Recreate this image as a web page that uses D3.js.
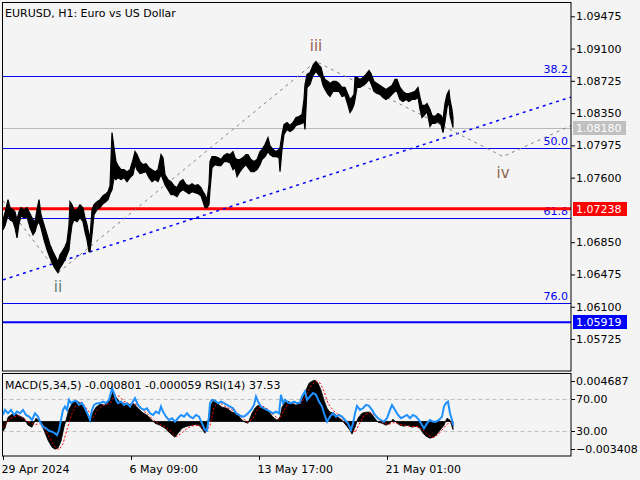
<!DOCTYPE html>
<html><head><meta charset="utf-8">
<script src="https://cdn.jsdelivr.net/npm/d3@7"></script>
<style>body{margin:0;background:#f4f4f4;}svg{display:block;font-family:"DejaVu Sans",sans-serif;}</style>
</head><body>
<script>
// ---------- DATA ----------
const title = "EURUSD, H1:  Euro vs US Dollar";
const priceBars = [0,2,5,7,10,12,14,16,18,21,24,27,30,32,34,36,38,41,44,47,50,53,55,57,59,62,64,66,67,69,71,74,77,80,82,84,86,87,89,91,94,97,100,103,105,107,109,111,113,115,118,121,124,127,130,132,134,137,140,143,146,149,152,155,158,160,162,165,168,171,174,177,180,183,186,189,192,195,198,200,202,204,206,207,209,212,215,218,221,224,227,230,232,234,237,240,243,245,248,251,254,257,259,262,265,267,270,273,276,277,279,281,284,287,290,293,296,299,301,302,304,307,310,313,316,318,320,322,325,327,330,333,336,339,342,345,347,349,351,352,354,357,360,363,366,368,371,374,377,380,383,386,389,392,394,397,400,403,406,409,412,415,417,419,422,424,427,429,432,435,438,440,442,444,446,447,449,450];
const priceHigh = [1.07111,1.07192,1.07344,1.07251,1.07227,1.07204,1.07111,1.07204,1.07251,1.07227,1.07251,1.07181,1.07111,1.07088,1.07227,1.07344,1.07169,1.07053,1.06936,1.06820,1.06739,1.06669,1.06622,1.06704,1.06739,1.06797,1.06855,1.07053,1.07321,1.07286,1.07227,1.07227,1.07286,1.07251,1.07134,1.07053,1.06936,1.06901,1.07227,1.07286,1.07321,1.07344,1.07390,1.07413,1.07437,1.07507,1.08124,1.07950,1.07787,1.07740,1.07693,1.07693,1.07670,1.07693,1.07810,1.07903,1.07868,1.07787,1.07751,1.07763,1.07716,1.07693,1.07670,1.07693,1.07868,1.07833,1.07635,1.07577,1.07553,1.07507,1.07484,1.07553,1.07577,1.07519,1.07507,1.07530,1.07507,1.07519,1.07484,1.07437,1.07402,1.07344,1.07519,1.07787,1.07845,1.07845,1.07833,1.07810,1.07857,1.07880,1.07868,1.07903,1.07833,1.07810,1.07810,1.07833,1.07868,1.07868,1.07810,1.07787,1.07810,1.07903,1.07926,1.07985,1.08066,1.07973,1.07926,1.07903,1.07926,1.07950,1.08101,1.08217,1.08241,1.08206,1.08241,1.08299,1.08311,1.08334,1.08508,1.08683,1.08800,1.08823,1.08905,1.08951,1.08905,1.08881,1.08788,1.08741,1.08718,1.08695,1.08718,1.08718,1.08695,1.08648,1.08648,1.08567,1.08508,1.08532,1.08567,1.08765,1.08765,1.08741,1.08765,1.08800,1.08846,1.08811,1.08718,1.08695,1.08672,1.08648,1.08625,1.08648,1.08672,1.08741,1.08741,1.08648,1.08602,1.08578,1.08578,1.08590,1.08602,1.08648,1.08532,1.08439,1.08439,1.08462,1.08392,1.08322,1.08311,1.08346,1.08322,1.08276,1.08462,1.08567,1.08613,1.08508,1.08392,1.08299];
const priceLow = [1.06994,1.07041,1.07169,1.07111,1.07088,1.07018,1.06901,1.07064,1.07157,1.07134,1.07146,1.07018,1.06936,1.06971,1.07053,1.07088,1.07018,1.06878,1.06762,1.06669,1.06587,1.06529,1.06494,1.06552,1.06587,1.06645,1.06704,1.06762,1.06878,1.07053,1.07111,1.07088,1.07134,1.07088,1.06971,1.06878,1.06739,1.06739,1.06936,1.07169,1.07227,1.07251,1.07297,1.07321,1.07344,1.07413,1.07460,1.07600,1.07577,1.07600,1.07577,1.07600,1.07553,1.07600,1.07635,1.07751,1.07693,1.07647,1.07658,1.07670,1.07600,1.07553,1.07577,1.07553,1.07635,1.07577,1.07519,1.07460,1.07402,1.07402,1.07379,1.07437,1.07460,1.07437,1.07413,1.07437,1.07425,1.07413,1.07390,1.07321,1.07251,1.07251,1.07286,1.07460,1.07716,1.07751,1.07740,1.07740,1.07787,1.07787,1.07775,1.07693,1.07716,1.07612,1.07670,1.07716,1.07751,1.07716,1.07670,1.07670,1.07693,1.07751,1.07810,1.07845,1.07903,1.07868,1.07845,1.07845,1.07833,1.07670,1.07926,1.08101,1.08159,1.08136,1.08159,1.08206,1.08217,1.08229,1.08252,1.08159,1.08648,1.08683,1.08788,1.08835,1.08788,1.08765,1.08672,1.08625,1.08567,1.08543,1.08602,1.08602,1.08602,1.08543,1.08555,1.08439,1.08357,1.08392,1.08450,1.08508,1.08648,1.08648,1.08672,1.08695,1.08741,1.08695,1.08602,1.08578,1.08567,1.08532,1.08508,1.08532,1.08567,1.08602,1.08602,1.08508,1.08485,1.08508,1.08485,1.08508,1.08508,1.08532,1.08392,1.08299,1.08334,1.08369,1.08194,1.08229,1.08229,1.08252,1.08217,1.08124,1.08252,1.08415,1.08485,1.08322,1.08229,1.08183];

const priceTicks = [1.09475,1.09100,1.08725,1.08350,1.07975,1.07600,1.06850,1.06475,1.06100,1.05725];
const lastPrice = 1.08180;
const redLevel = 1.07238;
const blueLevel = 1.05919;
const fibNames = ["38.2","50.0","61.8","76.0"];
const fibPrices = [1.08776,1.07949,1.07134,1.06144];
const trendBars = [0,568];
const trendPrices = [1.06412,1.08536];
const waveBars = [0,55,313,500,568];
const wavePrices = [1.07332,1.06494,1.08951,1.07845,1.08206];
const waveLabels = ["ii","iii","iv"];
const waveLabelIdx = [1,2,3];

const timeTickBars = [0,128,256,384];
const timeTickLabels = ["29 Apr 2024","6 May 09:00","13 May 17:00","21 May 01:00"];

const macdBars = [0,2,5,9,13,17,21,25,29,33,37,41,45,49,52,55,58,61,63,66,70,73,77,81,84,87,90,93,97,102,107,110,113,117,121,125,130,134,139,144,149,152,157,162,167,172,175,179,184,189,194,197,200,202,205,207,210,214,219,224,229,234,238,242,245,249,252,255,259,263,267,270,274,277,279,282,285,289,293,297,300,303,306,309,312,315,318,321,324,327,331,335,339,343,347,349,352,355,359,363,367,371,375,379,383,387,390,393,397,401,405,409,413,417,420,423,427,430,433,437,441,444,447,450];
const macdValues = [-0.00096,-0.00066,0.00042,0.00072,0.00072,0.00052,0.00033,-0.00037,-0.00056,0.00033,-0.00007,-0.00086,-0.00185,-0.00254,-0.00273,-0.00264,-0.00194,-0.00056,0.00013,0.00121,0.00190,0.00210,0.00181,0.00141,0.00082,0.00003,0.00092,0.00141,0.00171,0.00161,0.00210,0.00299,0.00240,0.00190,0.00181,0.00161,0.00181,0.00141,0.00092,0.00062,0.00013,-0.00017,-0.00037,-0.00066,-0.00116,-0.00155,-0.00116,-0.00066,-0.00046,-0.00037,-0.00027,-0.00046,-0.00086,-0.00116,0.00003,0.00141,0.00200,0.00181,0.00141,0.00131,0.00092,0.00082,0.00023,-0.00007,-0.00017,0.00082,0.00131,0.00161,0.00141,0.00121,0.00082,0.00042,0.00013,0.00042,0.00141,0.00190,0.00200,0.00181,0.00161,0.00181,0.00240,0.00309,0.00378,0.00398,0.00408,0.00378,0.00309,0.00210,0.00131,0.00092,0.00082,0.00042,0.00013,-0.00037,-0.00086,-0.00125,-0.00056,0.00033,0.00082,0.00092,0.00092,0.00042,-0.00007,-0.00017,-0.00037,-0.00017,0.00023,-0.00007,-0.00037,-0.00046,-0.00037,-0.00056,-0.00046,-0.00066,-0.00116,-0.00145,-0.00165,-0.00155,-0.00135,-0.00086,-0.00037,0.00033,0.00013,-0.00080];
const signalBars = [0,7,15,23,31,39,45,51,56,60,64,69,74,79,85,90,95,101,107,112,116,121,127,133,139,145,151,157,163,169,174,179,185,191,197,203,207,211,216,222,228,234,240,245,250,255,260,265,271,276,281,286,292,298,303,308,313,317,321,325,330,336,342,347,352,356,361,367,373,379,385,391,397,403,409,415,421,426,431,436,441,446,450];
const signalValues = [-0.0006,0.0003,0.0006,0.0001,-0.0003,-0.0002,-0.0013,-0.0024,-0.0028,-0.0022,-0.0008,0.0008,0.0018,0.0019,0.0011,0.0004,0.0012,0.0016,0.0018,0.0026,0.0025,0.0020,0.0017,0.0017,0.0012,0.0007,0.0001,-0.0003,-0.0006,-0.0011,-0.0015,-0.0011,-0.0006,-0.0004,-0.0004,-0.0010,-0.0004,0.0014,0.0019,0.0015,0.0012,0.0009,0.0003,-0.0001,0.0003,0.0013,0.0015,0.0012,0.0006,0.0002,0.0011,0.0019,0.0018,0.0018,0.0026,0.0035,0.0040,0.0038,0.0030,0.0018,0.0011,0.0006,0.0000,-0.0006,-0.0011,-0.0003,0.0006,0.0009,0.0005,-0.0001,-0.0003,-0.0001,-0.0003,-0.0004,-0.0005,-0.0005,-0.0009,-0.0014,-0.0016,-0.0012,-0.0006,-0.0001,-0.00006];
const rsiBars = [0,2,5,8,11,14,17,20,23,26,29,32,35,37,40,43,46,49,52,54,56,58,60,62,64,66,68,70,73,76,79,82,85,87,89,91,94,97,100,103,106,109,111,113,115,118,121,124,127,130,132,135,138,141,144,147,150,153,156,158,160,163,166,169,172,175,178,181,184,187,190,193,196,199,202,204,206,207,209,212,215,218,221,224,227,230,233,236,239,242,245,248,251,253,255,258,261,264,267,270,273,276,278,280,282,285,288,291,294,297,299,302,304,307,310,313,316,319,321,324,327,330,333,336,339,342,345,348,350,352,354,357,360,363,366,369,372,375,378,381,384,387,389,392,395,398,401,404,407,410,413,416,419,421,424,427,430,433,436,439,441,443,445,447,449,450];
const rsiValues = [50.1,56.2,52.1,56.2,50.1,54.2,52.1,56.2,50.1,48.0,43.9,52.1,48.0,41.9,35.7,33.7,30.8,29.6,27.6,25.5,31.7,43.9,56.2,60.3,56.2,68.5,64.4,66.4,67.6,62.3,64.4,58.2,50.1,43.9,56.2,62.3,64.4,64.4,66.4,64.4,68.5,82.8,76.7,68.5,64.4,66.4,62.3,64.4,60.3,66.4,70.5,62.3,58.2,56.2,58.2,52.1,50.1,54.2,52.1,60.3,54.2,48.0,43.9,46.0,41.9,46.0,50.1,48.0,52.1,48.0,46.0,50.1,48.0,39.8,31.7,30.8,48.0,64.4,68.5,67.6,64.4,66.4,64.4,62.3,60.3,58.2,52.1,50.1,48.0,48.8,52.1,56.2,62.3,72.6,66.4,60.3,58.2,56.2,54.2,52.1,54.2,52.1,74.6,64.4,68.5,65.2,64.4,66.4,64.4,65.2,72.6,78.7,68.5,72.6,76.7,74.6,66.4,60.3,52.1,41.9,48.0,52.1,48.0,50.1,48.0,43.9,39.8,31.7,39.8,52.1,61.1,56.2,58.2,62.3,61.1,56.2,50.1,46.0,43.9,41.9,46.0,56.2,62.3,56.2,50.1,46.0,48.0,50.1,46.0,50.1,48.0,43.9,37.8,33.7,39.8,43.9,41.9,41.9,43.9,48.0,60.3,64.4,66.4,52.1,43.9,37.53];
const macdMax = 0.004687, macdMin = -0.003408;
const rsiLevels = [70,30];
const subTitle = "MACD(5,34,5) -0.000801 -0.000059 RSI(14) 37.53";

// ---------- LAYOUT ----------
const W = 640, H = 480;
const L = 2.5, R = 571, mainTop = 2.5, mainBottom = 371, subTop = 373.5, subBottom = 456;
const svg = d3.select("body").append("svg").attr("width", W).attr("height", H);
svg.append("rect").attr("width", W).attr("height", H).attr("fill", "#f4f4f4");

const x = d3.scaleLinear().domain([0, 568]).range([3, 571]);
const y = d3.scaleLinear().domain([1.09475, 1.05725]).range([16.3, 339]);
const yM = d3.scaleLinear().domain([macdMin, macdMax]).range([subBottom, subTop + 0.5]);
const yR = d3.scaleLinear().domain([0, 100]).range([subBottom, subTop + 0.5]);

const defs = svg.append("defs");
defs.append("clipPath").attr("id", "cm").append("rect").attr("x", L).attr("y", mainTop).attr("width", R - L).attr("height", mainBottom - mainTop);
defs.append("clipPath").attr("id", "cs").append("rect").attr("x", L).attr("y", subTop).attr("width", R - L).attr("height", subBottom - subTop);

const gm = svg.append("g").attr("clip-path", "url(#cm)");

// fib horizontal lines
fibPrices.forEach((p, i) => {
  gm.append("line").attr("x1", L).attr("x2", R).attr("y1", Math.round(y(p)) + 0.5).attr("y2", Math.round(y(p)) + 0.5)
    .attr("stroke", "#0000ee").attr("stroke-width", 1);
  gm.append("text").attr("x", 568).attr("y", Math.round(y(p)) - 3).attr("text-anchor", "end")
    .attr("font-size", 11).attr("fill", "#0000ee").text(fibNames[i]);
});
// current price line
gm.append("line").attr("x1", L).attr("x2", R).attr("y1", Math.round(y(lastPrice)) + 0.5).attr("y2", Math.round(y(lastPrice)) + 0.5)
  .attr("stroke", "#b8b8b8").attr("stroke-width", 1);
// red & blue levels
gm.append("line").attr("x1", L).attr("x2", R).attr("y1", y(redLevel)).attr("y2", y(redLevel)).attr("stroke", "#ff0000").attr("stroke-width", 3);
gm.append("line").attr("x1", L).attr("x2", R).attr("y1", y(blueLevel)).attr("y2", y(blueLevel)).attr("stroke", "#0000ff").attr("stroke-width", 2);

// trend line (dotted blue)
gm.append("path").datum(trendBars.map((b, i) => [b, trendPrices[i]]))
  .attr("d", d3.line().x(d => x(d[0])).y(d => y(d[1])))
  .attr("fill", "none").attr("stroke", "#0000ff").attr("stroke-width", 1.5).attr("stroke-dasharray", "3,4");

// wave zigzag (grey dashed)
gm.append("path").datum(waveBars.map((b, i) => [b, wavePrices[i]]))
  .attr("d", d3.line().x(d => x(d[0])).y(d => y(d[1])))
  .attr("fill", "none").attr("stroke", "#808080").attr("stroke-width", 1).attr("stroke-dasharray", "3,4");

// price
const pd = priceBars.map((b, i) => ({b, h: priceHigh[i], l: priceLow[i]}));
gm.append("path").datum(pd)
  .attr("d", d3.area().x(d => x(d.b)).y0(d => y(d.l)).y1(d => y(d.h)))
  .attr("fill", "#000").attr("stroke", "#000").attr("stroke-width", 1.2);

// wave labels
const waveColors = ["#5f7f70", "#9a5c4c", "#8c6650"];
const waveOffsets = [19, -10, 21];
waveLabelIdx.forEach((wi, k) => {
  svg.append("text").attr("x", x(waveBars[wi])).attr("y", y(wavePrices[wi]) + waveOffsets[k])
    .attr("text-anchor", "middle").attr("font-size", 15).attr("fill", waveColors[k]).text(waveLabels[k]);
});

// title
svg.append("text").attr("x", 5).attr("y", 17).attr("font-size", 11).attr("fill", "#000").text(title);

// frames
svg.append("rect").attr("x", L).attr("y", mainTop).attr("width", R - L).attr("height", mainBottom - mainTop)
  .attr("fill", "none").attr("stroke", "#000").attr("stroke-width", 1);
svg.append("rect").attr("x", L).attr("y", subTop).attr("width", R - L).attr("height", subBottom - subTop)
  .attr("fill", "none").attr("stroke", "#000").attr("stroke-width", 1);

// price axis
const ax = svg.append("g").attr("transform", `translate(${R},0)`)
  .call(d3.axisRight(y).tickValues(priceTicks).tickSize(4).tickPadding(1).tickFormat(d3.format(".5f")));
ax.select(".domain").remove();
ax.selectAll("text").attr("font-size", 11).attr("font-family", "DejaVu Sans").attr("fill", "#000");
ax.selectAll("line").attr("stroke", "#000");

function priceBox(p, fill, w) {
  const yy = Math.round(y(p));
  svg.append("rect").attr("x", 573).attr("y", yy - 7).attr("width", w).attr("height", 14).attr("fill", fill);
  svg.append("text").attr("x", 576).attr("y", yy + 4).attr("font-size", 11).attr("fill", "#fff").text(d3.format(".5f")(p));
}
priceBox(lastPrice, "#c0c0c0", 53);
priceBox(redLevel, "#ff0000", 54);
priceBox(blueLevel, "#0000ff", 54);

// ---------- SUB WINDOW ----------
const gs = svg.append("g").attr("clip-path", "url(#cs)");
rsiLevels.forEach(v => {
  gs.append("line").attr("x1", L).attr("x2", R).attr("y1", Math.round(yR(v)) + 0.5).attr("y2", Math.round(yR(v)) + 0.5)
    .attr("stroke", "#c0c0c0").attr("stroke-dasharray", "4,3");
});
const md = macdBars.map((b, i) => [b, macdValues[i]]);
gs.append("path").datum(md)
  .attr("d", d3.area().x(d => x(d[0])).y0(yM(0)).y1(d => yM(d[1])))
  .attr("fill", "#000").attr("stroke", "#000").attr("stroke-width", 0.8);
gs.append("path").datum(signalBars.map((b, i) => [b, signalValues[i]]))
  .attr("d", d3.line().x(d => x(d[0])).y(d => yM(d[1])))
  .attr("fill", "none").attr("stroke", "#ff0000").attr("stroke-width", 1).attr("stroke-dasharray", "2,2");
gs.append("path").datum(rsiBars.map((b, i) => [b, rsiValues[i]]))
  .attr("d", d3.line().x(d => x(d[0])).y(d => yR(d[1])))
  .attr("fill", "none").attr("stroke", "#1e90ff").attr("stroke-width", 2);

svg.append("text").attr("x", 5).attr("y", 389).attr("font-size", 11).attr("fill", "#000").text(subTitle);

// sub axis labels
const subLabels = [[d3.format(".6f")(macdMax), 381], [d3.format(".2f")(rsiLevels[0]), yR(rsiLevels[0])],
                   [d3.format(".2f")(rsiLevels[1]), yR(rsiLevels[1])], [d3.format(".6f")(macdMin), 449]];
subLabels.forEach(([t, yy]) => {
  svg.append("line").attr("x1", R).attr("x2", R + 4).attr("y1", Math.round(yy) + 0.5).attr("y2", Math.round(yy) + 0.5).attr("stroke", "#000");
  svg.append("text").attr("x", 576).attr("y", yy + 4).attr("font-size", 11).attr("fill", "#000").text(t);
});

// time axis
const tx = svg.append("g").attr("transform", `translate(0,${subBottom})`)
  .call(d3.axisBottom(x).tickValues(timeTickBars).tickSize(4).tickFormat((d, i) => timeTickLabels[i]));
tx.select(".domain").remove();
tx.selectAll("line").attr("stroke", "#000");
tx.selectAll("text").attr("font-size", 11).attr("font-family", "DejaVu Sans").attr("fill", "#000")
  .attr("text-anchor", "start").attr("dx", -2).attr("dy", "0.9em");
</script>
</body></html>
